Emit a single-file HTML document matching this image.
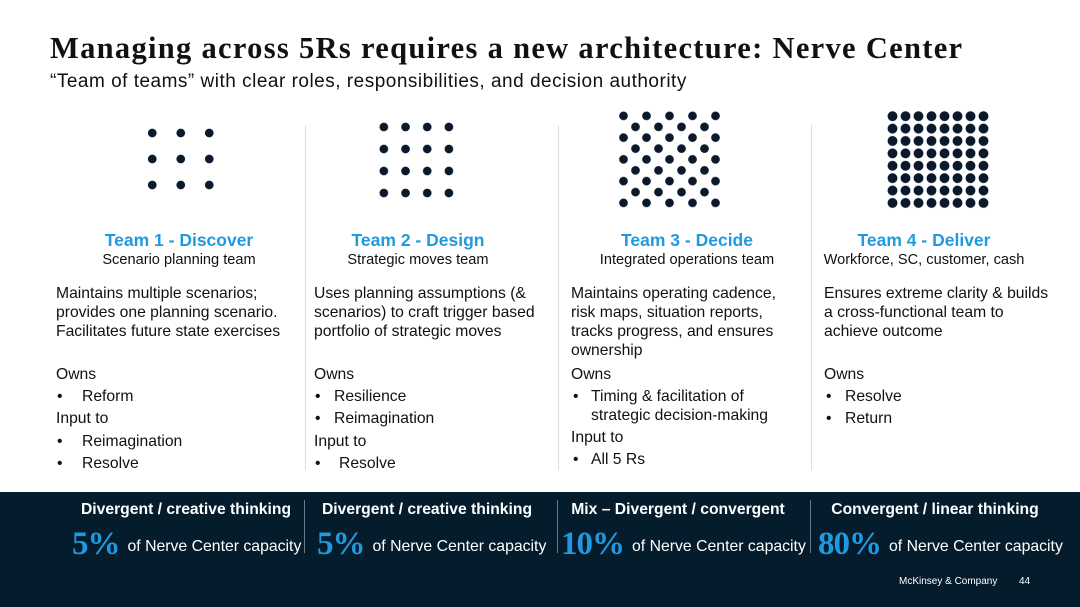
<!DOCTYPE html>
<html><head><meta charset="utf-8"><style>
html,body{margin:0;padding:0}
body{width:1080px;height:607px;position:relative;overflow:hidden;background:#fff;font-family:"Liberation Sans",Arial,sans-serif;color:#111}
.t{position:absolute;white-space:nowrap;font-size:15.7px;line-height:19px}
.c{transform:translateX(-50%)}
.h{color:#1f9ae0;font-weight:bold;font-size:17.5px}
.s{font-size:14.6px}
.g{position:absolute}
.vl{position:absolute;width:1px;background:#ddd}
.band{position:absolute;left:0;top:492px;width:1080px;height:115px;background:#051c2c}
.bh{position:absolute;white-space:nowrap;color:#fff;font-weight:bold;font-size:15.7px;transform:translateX(-50%)}
.bp{position:absolute;white-space:nowrap;color:#fff;font-size:15.8px}
.bp b{font-family:"Liberation Serif",serif;color:#1f9ae0;font-size:33px;margin-right:8px;vertical-align:-3px;letter-spacing:-1px}
.bv{position:absolute;width:1px;background:#6a7a88;top:500px;height:53px}
</style></head><body>
<div class="t" style="left:50px;top:30px;font-family:'Liberation Serif',serif;font-weight:bold;font-size:30.5px;letter-spacing:1.3px;line-height:36px">Managing across 5Rs requires a new architecture: Nerve Center</div>
<div class="t" style="left:50px;top:70px;font-size:19px;letter-spacing:0.5px;line-height:24px">“Team of teams” with clear roles, responsibilities, and decision authority</div>

<div class="g" style="left:137.75px;top:120px;width:85.5px;height:78px;background:radial-gradient(circle,#0a1a2c 4px,transparent 4.6px);background-size:28.5px 26px"></div>
<div class="g" style="left:373.2px;top:116px;width:86.8px;height:88px;background:radial-gradient(circle,#0a1a2c 4px,transparent 4.6px);background-size:21.7px 22px"></div>
<div class="g" style="left:611.5px;top:105.1px;width:115px;height:108.75px;background:radial-gradient(circle,#0a1a2c 4px,transparent 4.6px);background-size:23px 21.75px"></div>
<div class="g" style="left:623.5px;top:116px;width:92px;height:87px;background:radial-gradient(circle,#0a1a2c 4px,transparent 4.6px);background-size:23px 21.75px"></div>
<div class="g" style="left:885.5px;top:109.8px;width:104px;height:99.2px;background:radial-gradient(circle,#0a1a2c 4.6px,transparent 5.2px);background-size:13px 12.4px"></div>

<div class="vl" style="left:305px;top:125px;height:345px"></div>
<div class="vl" style="left:558px;top:125px;height:345px"></div>
<div class="vl" style="left:811px;top:125px;height:345px"></div>

<div class="t c h" style="left:179px;top:231px">Team 1 - Discover</div>
<div class="t c s" style="left:179px;top:251px">Scenario planning team</div>
<div class="t c h" style="left:418px;top:231px">Team 2 - Design</div>
<div class="t c s" style="left:418px;top:251px">Strategic moves team</div>
<div class="t c h" style="left:687px;top:231px">Team 3 - Decide</div>
<div class="t c s" style="left:687px;top:251px">Integrated operations team</div>
<div class="t c h" style="left:924px;top:231px">Team 4 - Deliver</div>
<div class="t c s" style="left:924px;top:251px">Workforce, SC, customer, cash</div>

<div class="t" style="left:56px;top:283.5px">Maintains multiple scenarios;<br>provides one planning scenario.<br>Facilitates future state exercises</div>
<div class="t" style="left:56px;top:364.5px">Owns</div>
<div class="t" style="left:57px;top:386.5px">•</div><div class="t" style="left:82px;top:386.5px">Reform</div>
<div class="t" style="left:56px;top:408.5px">Input to</div>
<div class="t" style="left:57px;top:431.5px">•</div><div class="t" style="left:82px;top:431.5px">Reimagination</div>
<div class="t" style="left:57px;top:453.5px">•</div><div class="t" style="left:82px;top:453.5px">Resolve</div>

<div class="t" style="left:314px;top:283.5px">Uses planning assumptions (&amp;<br>scenarios) to craft trigger based<br>portfolio of strategic moves</div>
<div class="t" style="left:314px;top:364.5px">Owns</div>
<div class="t" style="left:315px;top:386.5px">•</div><div class="t" style="left:334px;top:386.5px">Resilience</div>
<div class="t" style="left:315px;top:408.5px">•</div><div class="t" style="left:334px;top:408.5px">Reimagination</div>
<div class="t" style="left:314px;top:431.5px">Input to</div>
<div class="t" style="left:315px;top:453.5px">•</div><div class="t" style="left:339px;top:453.5px">Resolve</div>

<div class="t" style="left:571px;top:283.5px">Maintains operating cadence,<br>risk maps, situation reports,<br>tracks progress, and ensures<br>ownership</div>
<div class="t" style="left:571px;top:364.5px">Owns</div>
<div class="t" style="left:573px;top:386.5px">•</div><div class="t" style="left:591px;top:386.5px">Timing &amp; facilitation of<br>strategic decision-making</div>
<div class="t" style="left:571px;top:427.5px">Input to</div>
<div class="t" style="left:573px;top:449.5px">•</div><div class="t" style="left:591px;top:449.5px">All 5 Rs</div>

<div class="t" style="left:824px;top:283.5px">Ensures extreme clarity &amp; builds<br>a cross-functional team to<br>achieve outcome</div>
<div class="t" style="left:824px;top:364.5px">Owns</div>
<div class="t" style="left:826px;top:386.5px">•</div><div class="t" style="left:845px;top:386.5px">Resolve</div>
<div class="t" style="left:826px;top:408.5px">•</div><div class="t" style="left:845px;top:408.5px">Return</div>

<div class="band"></div>
<div class="bv" style="left:304px"></div>
<div class="bv" style="left:557px"></div>
<div class="bv" style="left:810px"></div>
<div class="bh" style="left:186px;top:501px">Divergent / creative thinking</div>
<div class="bh" style="left:427px;top:501px">Divergent / creative thinking</div>
<div class="bh" style="left:678px;top:501px">Mix – Divergent / convergent</div>
<div class="bh" style="left:935px;top:501px">Convergent / linear thinking</div>
<div class="bp" style="left:72px;top:526px"><b>5%</b>of Nerve Center capacity</div>
<div class="bp" style="left:317px;top:526px"><b>5%</b>of Nerve Center capacity</div>
<div class="bp" style="left:561px;top:526px"><b>10%</b>of Nerve Center capacity</div>
<div class="bp" style="left:818px;top:526px"><b>80%</b>of Nerve Center capacity</div>
<div class="t" style="left:899px;top:576px;color:#fff;font-size:10px;line-height:12px">McKinsey &amp; Company</div>
<div class="t" style="left:1019px;top:576px;color:#fff;font-size:10px;line-height:12px">44</div>
</body></html>
